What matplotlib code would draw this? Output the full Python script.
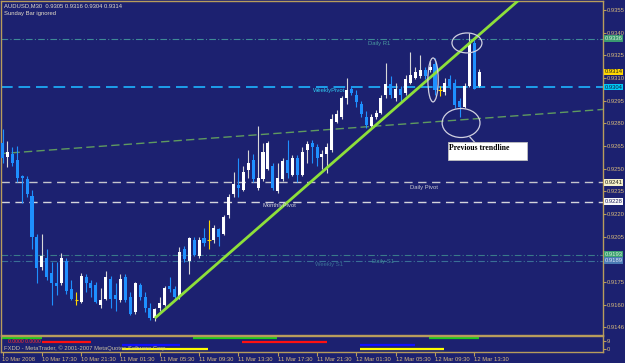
import matplotlib
matplotlib.use('Agg')
import matplotlib.pyplot as plt
import matplotlib.transforms as mtransforms
from matplotlib.patches import Rectangle, Ellipse

# ---------------- data (AUDUSD M30) ----------------
opens = [0.9267, 0.9258, 0.9260, 0.9256, 0.9245, 0.9243, 0.9232, 0.9205, 0.9185, 0.9191,
         0.9181, 0.9174, 0.9174, 0.9189, 0.9170, 0.9163, 0.9162, 0.9178, 0.9174, 0.9173,
         0.9160, 0.9164, 0.9177, 0.9166, 0.9163, 0.9178, 0.9165, 0.9155, 0.9173, 0.9165,
         0.9158, 0.9151, 0.9158, 0.9160, 0.9172, 0.9170, 0.9165, 0.9197, 0.9189, 0.9203,
         0.9192, 0.9204, 0.9203, 0.9203, 0.9210, 0.9207, 0.9219, 0.9233, 0.9239, 0.9236,
         0.9249, 0.9256, 0.9237, 0.9243, 0.9250, 0.9252, 0.9235, 0.9243, 0.9256, 0.9246,
         0.9257, 0.9246, 0.9262, 0.9267, 0.9264, 0.9258, 0.9260, 0.9262, 0.9281, 0.9284,
         0.9297, 0.9303, 0.9299, 0.9293, 0.9284, 0.9278, 0.9284, 0.9287, 0.9299, 0.9306,
         0.9297, 0.9303, 0.9300, 0.9307, 0.9310, 0.9311, 0.9315, 0.9315, 0.9319, 0.9302,
         0.9301, 0.9309, 0.9307, 0.9295, 0.9291, 0.9305, 0.9333, 0.9305]
highs = [0.9276, 0.9268, 0.9264, 0.9265, 0.9246, 0.9245, 0.9236, 0.9207, 0.9207, 0.9197,
         0.9188, 0.9188, 0.9194, 0.9191, 0.9176, 0.9168, 0.9181, 0.9180, 0.9176, 0.9175,
         0.9171, 0.9182, 0.9179, 0.9174, 0.9180, 0.9180, 0.9168, 0.9175, 0.9174, 0.9168,
         0.9161, 0.9158, 0.9165, 0.9172, 0.9178, 0.9172, 0.9198, 0.9199, 0.9205, 0.9205,
         0.9205, 0.9211, 0.9216, 0.9213, 0.9211, 0.9219, 0.9233, 0.9248, 0.9257, 0.9252,
         0.9262, 0.9260, 0.9278, 0.9267, 0.9268, 0.9254, 0.9254, 0.9257, 0.9269, 0.9259,
         0.9259, 0.9264, 0.9268, 0.9269, 0.9266, 0.9262, 0.9267, 0.9286, 0.9289, 0.9298,
         0.9310, 0.9305, 0.9302, 0.9295, 0.9288, 0.9286, 0.9289, 0.9299, 0.9320, 0.9311,
         0.9307, 0.9305, 0.9312, 0.9327, 0.9317, 0.9325, 0.9317, 0.9321, 0.9323, 0.9305,
         0.9310, 0.9312, 0.9309, 0.9297, 0.9307, 0.9340, 0.9335, 0.9316]
lows = [0.9254, 0.9251, 0.9252, 0.9241, 0.9227, 0.9231, 0.9197, 0.9174, 0.9183, 0.9176,
        0.9160, 0.9166, 0.9173, 0.9167, 0.9163, 0.9160, 0.9161, 0.9168, 0.9165, 0.9161,
        0.9158, 0.9163, 0.9158, 0.9156, 0.9162, 0.9162, 0.9153, 0.9154, 0.9163, 0.9155,
        0.9150, 0.9149, 0.9156, 0.9159, 0.9168, 0.9164, 0.9164, 0.9188, 0.9180, 0.9192,
        0.9191, 0.9199, 0.9197, 0.9201, 0.9199, 0.9206, 0.9217, 0.9231, 0.9231, 0.9235,
        0.9244, 0.9241, 0.9236, 0.9242, 0.9249, 0.9236, 0.9234, 0.9242, 0.9244, 0.9245,
        0.9241, 0.9245, 0.9254, 0.9254, 0.9252, 0.9250, 0.9247, 0.9261, 0.9280, 0.9283,
        0.9293, 0.9299, 0.9291, 0.9284, 0.9277, 0.9277, 0.9283, 0.9286, 0.9297, 0.9297,
        0.9295, 0.9295, 0.9299, 0.9306, 0.9309, 0.9310, 0.9309, 0.9314, 0.9299, 0.9298,
        0.9299, 0.9303, 0.9290, 0.9284, 0.9290, 0.9304, 0.9303, 0.9304]
closes = [0.9257, 0.9261, 0.9254, 0.9244, 0.9244, 0.9233, 0.9205, 0.9184, 0.9192, 0.9178,
          0.9174, 0.9172, 0.9191, 0.9169, 0.9164, 0.9163, 0.9179, 0.9174, 0.9171, 0.9162,
          0.9163, 0.9178, 0.9164, 0.9164, 0.9177, 0.9163, 0.9154, 0.9174, 0.9165, 0.9158,
          0.9151, 0.9157, 0.9161, 0.9171, 0.9170, 0.9165, 0.9195, 0.9190, 0.9204, 0.9193,
          0.9203, 0.9201, 0.9203, 0.9211, 0.9205, 0.9218, 0.9231, 0.9240, 0.9237, 0.9248,
          0.9254, 0.9243, 0.9244, 0.9261, 0.9267, 0.9237, 0.9244, 0.9255, 0.9247, 0.9257,
          0.9246, 0.9261, 0.9266, 0.9264, 0.9257, 0.9260, 0.9264, 0.9283, 0.9286, 0.9297,
          0.9302, 0.9300, 0.9294, 0.9286, 0.9279, 0.9284, 0.9287, 0.9297, 0.9306, 0.9299,
          0.9303, 0.9299, 0.9309, 0.9312, 0.9314, 0.9315, 0.9311, 0.9317, 0.9302, 0.9302,
          0.9307, 0.9305, 0.9292, 0.9291, 0.9305, 0.9333, 0.9303, 0.9314]

time_tick_bars = [0, 8, 16, 24, 32, 40, 48, 56, 64, 72, 80, 88, 96]
time_tick_labels = ['10 Mar 2008', '10 Mar 17:30', '10 Mar 21:30', '11 Mar 01:30',
                    '11 Mar 05:30', '11 Mar 09:30', '11 Mar 13:30', '11 Mar 17:30',
                    '11 Mar 21:30', '12 Mar 01:30', '12 Mar 05:30', '12 Mar 09:30',
                    '12 Mar 13:30']
price_ticks = [0.9355, 0.9340, 0.9325, 0.9310, 0.9295, 0.9280, 0.9265, 0.9250, 0.9235,
               0.9220, 0.9205, 0.9175, 0.9160, 0.9145]
price_tick_labels = ['0.9355', '0.9340', '0.9325', '0.9310', '0.9295', '0.9280', '0.9265',
                     '0.9250', '0.9235', '0.9220', '0.9205', '0.9175', '0.9160', '0.9146']

# pivot levels
level_names = ['Daily R1', 'WeeklyPivot', 'Daily Pivot', 'MonthlyPivot', 'Daily S1', 'Weekly S1']
level_values = [0.9336, 0.9304, 0.9241, 0.9228, 0.9193, 0.9189]
current_price = 0.9314

# trend lines (bar index, price)
trend_bars = [31, 70.6]
trend_prices = [0.9151, 0.92636]
prev_trend_bars = [0, 121.4]
prev_trend_prices = [0.9260, 0.9289]

# indicator sub-window segments: (start bar, end bar) per level
sub_levels = [12, 8, 4, 0]
sub_colors = ['#1ec81e', '#ff1010', '#1010ff', '#ffff00']
sub_segments = [[(-0.1, 8.0), (38.8, 55.8), (86.8, 96.9)],
                [(8.0, 18.0), (48.7, 66.0)],
                [(24.3, 36.1), (72.7, 83.9)],
                [(24.3, 41.8), (72.7, 89.8)]]

# ---------------- style ----------------
BG = '#1c2170'
FRAME = '#b89c5c'
TXT = '#d8ba7c'
BULL = '#ffffff'
BEAR = '#1e90ff'
DOJI = '#ffd700'
FS = 4.2
plt.rcParams['font.family'] = ['Liberation Sans', 'DejaVu Sans']

W, H = 625, 363
fig = plt.figure(figsize=(W / 100, H / 100), dpi=100, facecolor=BG)

def fx(px):
    return px / W

def fy(py):
    return (H - py) / H

# main axes: x 1.5..602.5 px, y 1..335 px
ax = fig.add_axes([fx(1.5), fy(335), fx(602.5) - fx(1.5), fy(1) - fy(335)])
ax.set_facecolor(BG)
bar_px = 4.915
x0 = (1.5 - 2.5) / bar_px
x1 = (602.5 - 2.5) / bar_px
ax.set_xlim(x0, x1)
pip_px = 0.0000662
ax.set_ylim(0.9355 - pip_px * 325, 0.9355 + pip_px * 9)
for s in ax.spines.values():
    s.set_color(FRAME)
    s.set_linewidth(1.0)

# pivot lines
ax.axhline(level_values[0], color='#3f8a96', lw=0.8, dashes=(6, 2, 1, 2))
ax.axhline(level_values[1], color='#1eb4ff', lw=1.2, dashes=(7, 3.5))
ax.axhline(level_values[2], color='#c4c4cc', lw=1.0, dashes=(6, 4))
ax.axhline(level_values[3], color='#d4d4dc', lw=1.0, dashes=(6, 4))
ax.axhline(level_values[4], color='#3a7a8a', lw=0.8, dashes=(6, 2, 1, 2))
ax.axhline(level_values[5], color='#3a6f96', lw=0.8, dashes=(6, 2, 1, 2))

# previous trendline (dashed)
pslope = (prev_trend_prices[1] - prev_trend_prices[0]) / (prev_trend_bars[1] - prev_trend_bars[0])
ax.plot([x0 - 1, x1 + 1],
        [prev_trend_prices[0] + (x0 - 1 - prev_trend_bars[0]) * pslope,
         prev_trend_prices[0] + (x1 + 1 - prev_trend_bars[0]) * pslope],
        color='#5f9a5f', lw=1.0, dashes=(6, 3), zorder=2)

# candles
for i, (o, h, l, c) in enumerate(zip(opens, highs, lows, closes)):
    if abs(c - o) < 1e-7:
        ax.vlines(i, l, h, color=DOJI, lw=0.8, zorder=3)
        ax.hlines(o, i - 0.35, i + 0.35, color=DOJI, lw=0.8, zorder=3)
        continue
    col = BULL if c > o else BEAR
    wick = '#d8d8d8' if c > o else BEAR
    ax.vlines(i, l, h, color=wick, lw=0.8, zorder=3)
    ax.bar(i, abs(c - o), bottom=min(o, c), width=0.62, color=col, lw=0, zorder=4)

# main trend line (ray)
slope = (trend_prices[1] - trend_prices[0]) / (trend_bars[1] - trend_bars[0])
ax.plot([trend_bars[0], x1 + 5], [trend_prices[0], trend_prices[0] + slope * (x1 + 5 - trend_bars[0])],
        color='#8ee03a', lw=2.0, zorder=5, solid_capstyle='butt')

# level labels on chart
lbl_kw = dict(fontsize=FS, va='center', ha='left', zorder=6)
ax.text(74.4, 0.93325, level_names[0], color='#4a9aa0', **lbl_kw)
ax.text(63.2, 0.93020, level_names[1], color='#30c8f0', **lbl_kw)
ax.text(82.9, 0.92378, level_names[2], color='#c8c8d0', **lbl_kw)
ax.text(53.0, 0.92253, level_names[3], color='#d0d0d8', **lbl_kw)
ax.text(75.2, 0.91888, level_names[4], color='#3f8a96', **lbl_kw)
ax.text(63.6, 0.91862, level_names[5], color='#3a6f96', **lbl_kw)

# ellipses / annotation
ell_kw = dict(fill=False, ec='#d0d0e0', lw=0.9, zorder=6)
ax.add_patch(Ellipse((87.6, 0.93087), 2.1, 0.00291, **ell_kw))
ax.add_patch(Ellipse((94.5, 0.93332), 6.1, 0.00132, **ell_kw))
ax.add_patch(Ellipse((93.3, 0.92802), 7.7, 0.00192, **ell_kw))
ax.plot([95.1, 96.4], [0.92709, 0.92662], color='#d0d0e0', lw=0.9, zorder=6)
ax.add_patch(Rectangle((90.6, 0.92557), 16.1, 0.00119, fc='white', ec='#c0c0c0', lw=0.6, zorder=7))
ax.text(90.9, 0.92636, 'Previous trendline', family=['Liberation Serif', 'DejaVu Serif'],
        fontweight='bold', fontsize=5.6, color='black', va='center', ha='left', zorder=8)

# right price axis
ax.yaxis.tick_right()
ax.set_yticks(price_ticks)
ax.set_yticklabels(price_tick_labels)
ax.tick_params(axis='y', colors=FRAME, labelcolor=TXT, labelsize=FS, length=2.0, width=0.8, pad=1.2)
ax.tick_params(axis='x', bottom=False, labelbottom=False)

# colored price boxes
trans = mtransforms.blended_transform_factory(ax.transAxes, ax.transData)
box_specs = [(level_values[0], '#3a9a70', '#d8f0d8'),
             (current_price, '#ffd700', '#202020'),
             (level_values[1], '#00c8f8', '#102040'),
             (level_values[2], '#f4f0c8', '#202020'),
             (level_values[3], '#f8f8f8', '#202060'),
             (level_values[4], '#3aa070', '#d8f0d8'),
             (level_values[5], '#4a7ab4', '#e0e8f8')]
for val, fc, tc in box_specs:
    ax.text(1.0035, val, '%.4f' % val, transform=trans, fontsize=FS, color=tc, va='center', ha='left',
            bbox=dict(boxstyle='square,pad=0.15', fc=fc, ec='none'), clip_on=False, zorder=10)

# sub window
sub = fig.add_axes([fx(1.5), fy(352), fx(602.5) - fx(1.5), fy(336) - fy(352)])
sub.set_facecolor(BG)
sub.set_xlim(x0, x1)
sub.set_ylim(-3.7, 14.9)
for s in sub.spines.values():
    s.set_color(FRAME)
    s.set_linewidth(1.0)
for lev, col, segs in zip(sub_levels, sub_colors, sub_segments):
    for a, b in segs:
        sub.hlines(lev, a, b, color=col, lw=1.6)
sub.text(1.2, 8, '0.0000 0.0000', fontsize=3.6, color='#ff3030', va='center', ha='left')
sub.text(0.4, 1.2, 'FXDD - MetaTrader, \u00a9 2001-2007 MetaQuotes Software Corp.',
         fontsize=FS, color='#c8c0a0', va='center', ha='left')
sub.yaxis.tick_right()
sub.set_yticks([9, 0])
sub.set_yticklabels(['9', '0'])
sub.set_xticks(time_tick_bars)
sub.set_xticklabels(time_tick_labels, ha='left')
sub.tick_params(axis='y', colors=FRAME, labelcolor=TXT, labelsize=FS, length=2.0, width=0.8, pad=1.2)
sub.tick_params(axis='x', colors=FRAME, labelcolor=TXT, labelsize=FS, length=3, width=0.8, pad=0.8)

# header
fig.text(fx(4), fy(6), 'AUDUSD,M30  0.9305 0.9316 0.9304 0.9314', fontsize=FS, color='#e4dcc8', va='center', ha='left')
fig.text(fx(4), fy(13), 'Sunday Bar ignored', fontsize=FS, color='#e4dcc8', va='center', ha='left')

fig.savefig('out.png', dpi=100, facecolor=BG)
